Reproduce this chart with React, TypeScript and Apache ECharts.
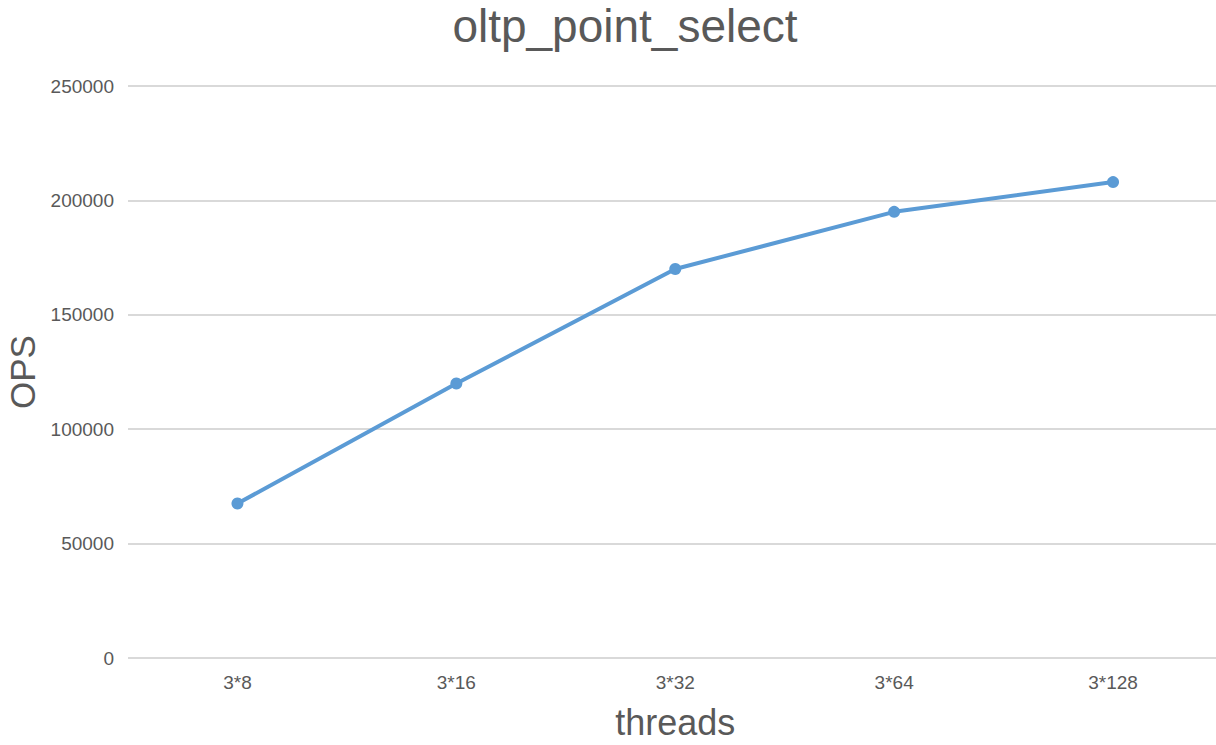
import React, { useEffect, useRef } from "react";
import * as echarts from "echarts";

const categories = ["3*8", "3*16", "3*32", "3*64", "3*128"];
const opsValues = [67500, 120000, 170000, 195000, 208000];
const yTicks = { min: 0, max: 250000, interval: 50000 };
const titleText = "oltp_point_select";
const xName = "threads";
const yName = "OPS";

const FONT = 'Helvetica, Arial, "Liberation Sans", sans-serif';
const TEXT_COLOR = "#595959";

export default function App() {
  const ref = useRef<HTMLDivElement>(null);
  useEffect(() => {
    const chart = echarts.init(ref.current!, null, { renderer: "svg" });
    chart.setOption({
      animation: false,
      backgroundColor: "#ffffff",
      textStyle: { fontFamily: FONT },
      graphic: [
        {
          type: "text",
          x: 625,
          y: 3,
          style: {
            text: titleText,
            fill: TEXT_COLOR,
            font: `46px ${FONT}`,
            textAlign: "center",
            textVerticalAlign: "top",
          },
        },
      ],
      grid: {
        left: 128,
        right: 7.5,
        top: 86,
        bottom: 87,
        containLabel: false,
        outerBoundsMode: "none",
      },
      xAxis: {
        type: "category",
        data: categories,
        boundaryGap: true,
        name: xName,
        nameLocation: "middle",
        nameGap: 46,
        nameTextStyle: { fontSize: 36, color: TEXT_COLOR, fontFamily: FONT, verticalAlign: "top" },
        axisLine: { show: false },
        axisTick: { show: false },
        axisLabel: { fontSize: 19, color: TEXT_COLOR, margin: 15, fontFamily: FONT },
      },
      yAxis: {
        type: "value",
        min: yTicks.min,
        max: yTicks.max,
        interval: yTicks.interval,
        name: yName,
        nameLocation: "middle",
        nameGap: 86,
        nameTextStyle: { fontSize: 35, color: TEXT_COLOR, fontFamily: FONT },
        axisLine: { show: false },
        axisTick: { show: false },
        axisLabel: {
          fontSize: 19,
          color: TEXT_COLOR,
          margin: 14,
          fontFamily: FONT,
          formatter: (v: number) => String(v),
        },
        splitLine: { lineStyle: { color: "#d9d9d9", width: 2 } },
      },
      series: [
        {
          type: "line",
          data: opsValues,
          symbol: "circle",
          symbolSize: 12,
          itemStyle: { color: "#5b9bd5" },
          lineStyle: { color: "#5b9bd5", width: 4 },
        },
      ],
    });
    return () => chart.dispose();
  }, []);
  return (
    <div
      ref={ref}
      style={{ position: "fixed", left: 0, top: 0, width: 1230, height: 745 }}
    />
  );
}
